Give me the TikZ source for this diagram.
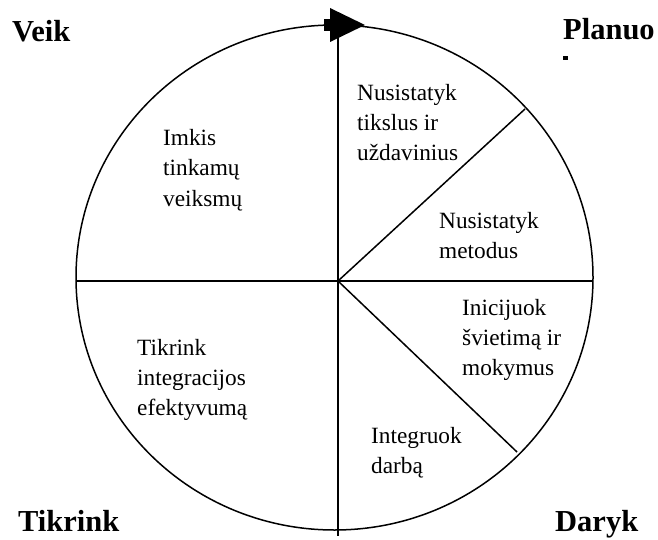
\documentclass[tikz,border=0pt]{standalone}
\usepackage{fontspec}
\setmainfont{Liberation Serif}
\begin{document}
\begin{tikzpicture}[x=1pt,y=-1pt,
  ln/.style={line width=1.5pt,black},
  body/.style={anchor=base west,inner sep=0pt,align=left,font=\fontsize{23.3}{30}\selectfont},
  lbl/.style={anchor=base west,inner sep=0pt,font=\fontsize{30.5}{33}\selectfont\bfseries}]
\useasboundingbox (0,0) rectangle (658,540);
\coordinate (c) at (338,281);
\coordinate (top) at (338,25);
\coordinate (bot) at (338,536);
\coordinate (lft) at (76,281);
\coordinate (rgt) at (593,281);
\coordinate (ur) at (525,109);
\coordinate (lr) at (517,452);
\draw[ln] (334.5,277.5) ellipse [x radius=258.5, y radius=252.5];
\draw[ln] (top) -- (bot);
\draw[ln] (lft) -- (rgt);
\draw[ln] (c) -- (ur);
\draw[ln] (c) -- (lr);
% arrow head on the top of the circle
\fill (324,19) rectangle (332,31);
\fill (330,8) -- (365,25) -- (330,42) -- cycle;
% labels
\node[lbl] (veik) at (12,42) {Veik};
\node[lbl] (plan) at (563,40) {Planuo};
\fill (563,56) rectangle (568,60);
\node[lbl] (tikr) at (18,531) {Tikrink};
\node[lbl] (dary) at (555,531) {Daryk};
% sector texts (base = baseline of last line)
\node[body] (t1) at (163,206) {Imkis\\tinkamų\\veiksmų};
\node[body] (t2) at (357,161) {Nusistatyk\\tikslus ir\\uždavinius};
\node[body] (t3) at (439,258) {Nusistatyk\\metodus};
\node[body] (t4) at (462,375) {Inicijuok\\švietimą ir\\mokymus};
\node[body] (t5) at (137,415) {Tikrink\\integracijos\\efektyvumą};
\node[body] (t6) at (371,473) {Integruok\\darbą};
\end{tikzpicture}
\end{document}
